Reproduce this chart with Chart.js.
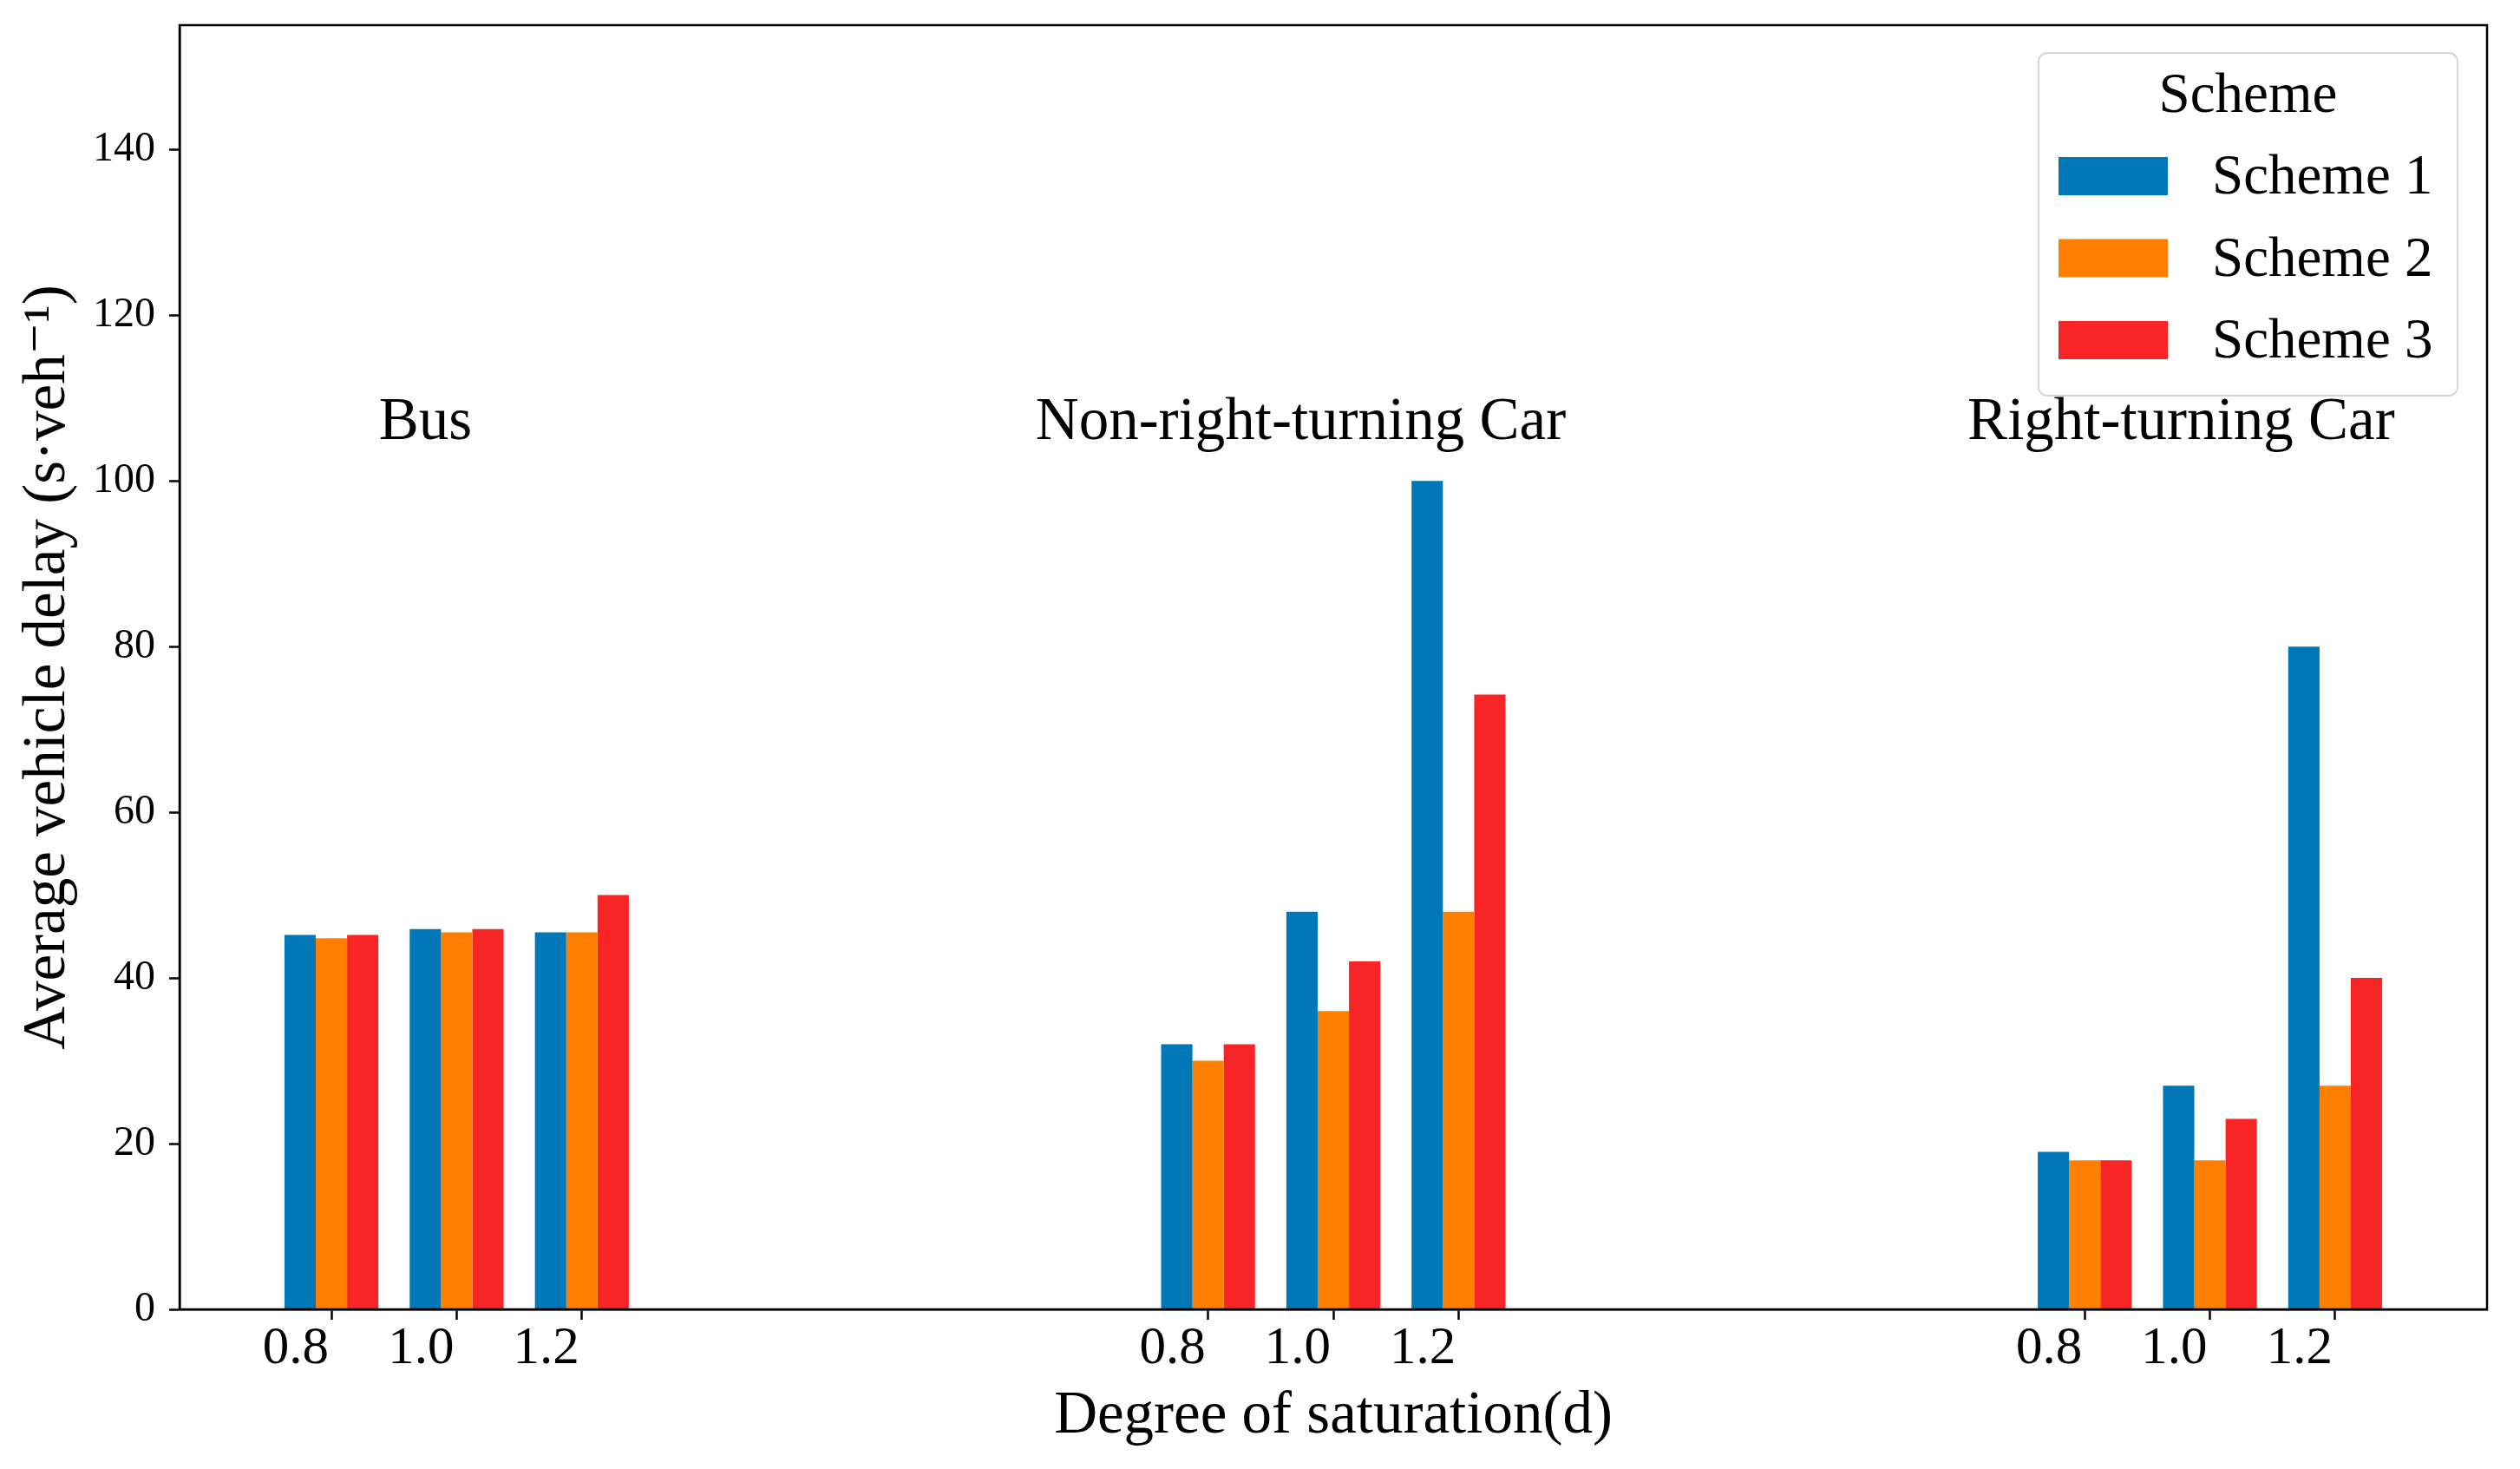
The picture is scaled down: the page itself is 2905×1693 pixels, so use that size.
<!DOCTYPE html>
<html>
<head>
<meta charset="utf-8">
<script src="https://cdn.jsdelivr.net/npm/chart.js@4.4.0/dist/chart.umd.min.js"></script>
<style>
  html, body { margin: 0; padding: 0; background: #fff; }
</style>
</head>
<body>
<canvas id="chart" width="2905" height="1693"></canvas>
<script>
// Valeurs
const positions = [0, 1, 2, 7, 8, 9, 14, 15, 16];
const tickLabels = ['0.8', '1.0', '1.2', '0.8', '1.0', '1.2', '0.8', '1.0', '1.2'];
const scheme1 = [45.2, 45.9, 45.5, 32, 48, 100, 19, 27, 80];
const scheme2 = [44.8, 45.5, 45.5, 30, 36, 48, 18, 18, 27];
const scheme3 = [45.2, 45.9, 50, 32, 42, 74.2, 18, 23, 40];
const seriesNames = ['Scheme 1', 'Scheme 2', 'Scheme 3'];
const yTicks = [0, 20, 40, 60, 80, 100, 120, 140];
const groupNames = ['Bus', 'Non-right-turning Car', 'Right-turning Car'];
const groupNameX = [0.75, 7.74, 14.77];
const groupNameY = 105;

const colors = ['#0077B6', '#FF7F00', '#F72525'];
const FONT = "'Liberation Serif', 'DejaVu Serif', serif";

// Cadre complet autour de la zone de tracé
const frame = {
    id: 'frame',
    afterDatasetsDraw(chart) {
        const { ctx, chartArea: a } = chart;
        ctx.save();
        ctx.strokeStyle = '#000';
        ctx.lineWidth = 2.5;
        ctx.strokeRect(a.left, a.top, a.right - a.left, a.bottom - a.top);
        ctx.restore();
    }
};

// Noms des groupes au-dessus des barres
const groupText = {
    id: 'groupText',
    afterDatasetsDraw(chart) {
        const { ctx, scales } = chart;
        ctx.save();
        ctx.fillStyle = '#000';
        ctx.font = `69px ${FONT}`;
        ctx.textAlign = 'center';
        ctx.textBaseline = 'alphabetic';
        groupNames.forEach((name, i) => {
            ctx.fillText(name, scales.x.getPixelForValue(groupNameX[i]), scales.y.getPixelForValue(groupNameY));
        });
        ctx.restore();
    }
};

// Légende dans un cadre arrondi, en haut à droite
const schemeLegend = {
    id: 'schemeLegend',
    afterDraw(chart) {
        const { ctx, chartArea: a } = chart;
        const w = 483, h = 395;
        const x0 = a.right - 34 - w, y0 = a.top + 32;
        ctx.save();
        ctx.beginPath();
        ctx.roundRect(x0, y0, w, h, 10);
        ctx.fillStyle = 'rgba(255,255,255,0.8)';
        ctx.fill();
        ctx.strokeStyle = '#d6d6d6';
        ctx.lineWidth = 2;
        ctx.stroke();

        ctx.fillStyle = '#000';
        ctx.font = `65px ${FONT}`;
        ctx.textAlign = 'center';
        ctx.textBaseline = 'alphabetic';
        ctx.fillText('Scheme', x0 + w / 2, y0 + 68);

        ctx.textAlign = 'left';
        chart.data.datasets.forEach((ds, i) => {
            const cy = y0 + 142 + i * 94.5;
            ctx.fillStyle = ds.backgroundColor;
            ctx.fillRect(x0 + 23, cy - 22, 126, 44);
            ctx.fillStyle = '#000';
            ctx.fillText(ds.label, x0 + 200, cy + 20);
        });
        ctx.restore();
    }
};

const series = [scheme1, scheme2, scheme3];

new Chart(document.getElementById('chart'), {
    type: 'bar',
    data: {
        datasets: series.map((vals, i) => ({
            label: seriesNames[i],
            data: positions.map((x, j) => ({ x: x, y: vals[j] })),
            backgroundColor: colors[i],
            borderWidth: 0,
            categoryPercentage: 0.75,
            barPercentage: 1.0
        }))
    },
    options: {
        responsive: false,
        devicePixelRatio: 1,
        animation: false,
        layout: { padding: { left: 0, right: 38, top: 29, bottom: 0 } },
        plugins: {
            legend: { display: false },
            tooltip: { enabled: false }
        },
        scales: {
            x: {
                type: 'linear',
                offset: false,
                min: -1.2125,
                max: 17.2125,
                afterBuildTicks: s => { s.ticks = positions.map(v => ({ value: v })); },
                afterFit: s => { s.height = 184; s.paddingLeft = 0; s.paddingRight = 0; },
                ticks: {
                    autoSkip: false,
                    maxRotation: 0,
                    align: 'end',   // étiquettes calées à droite du repère, comme l'original
                    labelOffset: -3,
                    padding: -3,
                    color: '#000',
                    font: { family: FONT, size: 61 },
                    callback: (v, i) => tickLabels[i]
                },
                grid: { offset: false, drawOnChartArea: false, tickLength: 12, tickColor: '#000', tickWidth: 2.5 },
                border: { color: '#000', width: 2.5 },
                title: {
                    display: true,
                    text: 'Degree of saturation(d)',
                    color: '#000',
                    font: { family: FONT, size: 69 },
                    padding: { top: 0, bottom: 19 }
                }
            },
            y: {
                min: 0,
                max: 155,
                afterBuildTicks: s => { s.ticks = yTicks.map(v => ({ value: v })); },
                afterFit: s => { s.width = 207; s.paddingTop = 0; s.paddingBottom = 0; },
                ticks: {
                    padding: 16,
                    color: '#000',
                    font: { family: FONT, size: 48 }
                },
                grid: { drawOnChartArea: false, tickLength: 12, tickColor: '#000', tickWidth: 2.5 },
                border: { color: '#000', width: 2.5 },
                title: {
                    display: true,
                    text: 'Average vehicle delay (s·veh⁻¹)',
                    color: '#000',
                    font: { family: FONT, size: 69 },
                    padding: { top: 14, bottom: 0 }
                }
            }
        }
    },
    plugins: [frame, groupText, schemeLegend]
});
</script>
</body>
</html>
